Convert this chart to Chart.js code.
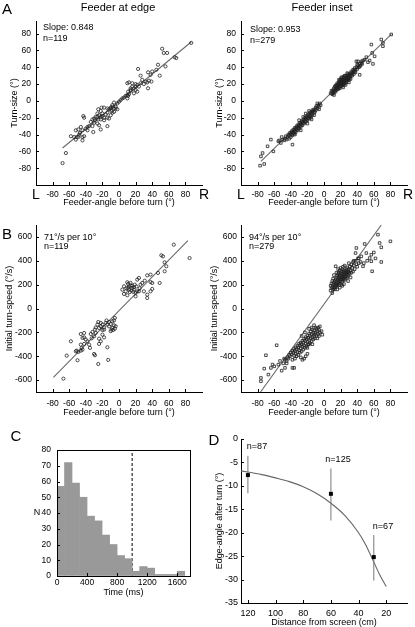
<!DOCTYPE html>
<html>
<head>
<meta charset="utf-8">
<script src="https://cdn.jsdelivr.net/npm/chart.js@4.4.1/dist/chart.umd.min.js"></script>
<style>
  html, body { margin: 0; padding: 0; background: #fff; }
  #fig { position: relative; width: 415px; height: 627px; overflow: hidden; font-family: 'Liberation Sans', Arial, sans-serif; color: #000; }
  #fig canvas { position: absolute; }
  .t { position: absolute; white-space: nowrap; line-height: 1; font-size: 9px; }
  .c { transform: translate(-50%, -50%); }
  .l { transform: translate(0, -50%); }
  .big { font-size: 15px; }
</style>
</head>
<body>
<div id="fig">
  <canvas id="cA1" width="205" height="210" style="left:0;top:0"></canvas>
  <canvas id="cA2" width="210" height="210" style="left:205px;top:0"></canvas>
  <canvas id="cB1" width="205" height="210" style="left:0;top:210px"></canvas>
  <canvas id="cB2" width="210" height="210" style="left:205px;top:210px"></canvas>
  <canvas id="cC" width="205" height="207" style="left:0;top:420px"></canvas>
  <canvas id="cD" width="210" height="207" style="left:205px;top:420px"></canvas>

  <div class="t c big" style="left:7px;top:8px">A</div>
  <div class="t c" style="left:118px;top:7px;font-size:11px">Feeder at edge</div>
  <div class="t c" style="left:322px;top:7px;font-size:11px">Feeder inset</div>
  <div class="t c big" style="left:36px;top:194px;font-size:14px">L</div>
  <div class="t c big" style="left:204px;top:194px;font-size:14px">R</div>
  <div class="t c big" style="left:241px;top:194px;font-size:14px">L</div>
  <div class="t c big" style="left:408px;top:194px;font-size:14px">R</div>
  <div class="t l" style="left:43px;top:27px">Slope: 0.848</div>
  <div class="t l" style="left:43px;top:38px">n=119</div>
  <div class="t l" style="left:250px;top:29px">Slope: 0.953</div>
  <div class="t l" style="left:250px;top:40px">n=279</div>

  <div class="t c big" style="left:7px;top:233px">B</div>
  <div class="t l" style="left:44px;top:237px">71°/s per 10°</div>
  <div class="t l" style="left:44px;top:246px">n=119</div>
  <div class="t l" style="left:249px;top:237px">94°/s per 10°</div>
  <div class="t l" style="left:249px;top:246px">n=279</div>

  <div class="t c big" style="left:16px;top:435px">C</div>
  <div class="t c" style="left:37px;top:512px">N</div>

  <div class="t c big" style="left:214px;top:439px">D</div>
  <div class="t c" style="left:257px;top:446px">n=87</div>
  <div class="t c" style="left:338px;top:459px">n=125</div>
  <div class="t c" style="left:383px;top:526px">n=67</div>
</div>

<script>
// ---- data ----
const angleTicks = [-80, -60, -40, -20, 0, 20, 40, 60, 80];
const turnTicks = [-80, -60, -40, -20, 0, 20, 40, 60, 80];
const speedTicks = [-600, -400, -200, 0, 200, 400, 600];

// A: feeder angle (deg) vs turn size (deg)
const edgeTurn = [[87,69],[52,62],[54,57],[58,57],[67,52],[69,51],[23,38],[47,43],[56,41],[35,34],[40,35],[38,31],[26,30],[49,30],
  [12,22],[16,21],[20,20],[22,19],[26,21],[32,23],[34,22],[36,24],[39,23],[30,20],[35,15],[16,17],[18,15],[20,13],[14,13],[22,11],
  [18,9],[12,8],[8,6],[6,4],[11,6],[10,3],[14,12],[11,11],
  [-6,-2],[-8,-5],[-4,-7],[-10,-8],[-6,-9],[-12,-10],[-2,-10],[-9,-12],[-14,-14],[-16,-16],[-8,-14],[-6,-13],[-10,-17],[-21,-8],
  [-18,-8],[-25,-10],[-22,-12],[-26,-15],[-24,-17],[-28,-19],[-22,-19],[-20,-18],[-18,-20],[-14,-20],[-12,-21],[-25,-22],[-22,-22],
  [-29,-23],[-32,-22],[-34,-25],[-30,-26],[-26,-27],[-24,-29],[-36,-30],[-38,-31],[-32,-30],[-14,-30],[-22,-34],[-31,-37],[-43,-18],[-42,-20],
  [-46,-31],[-44,-35],[-49,-34],[-52,-35],[-47,-38],[-51,-43],[-54,-43],[-49,-43],[-44,-43],[-42,-42],[-58,-42],[-52,-46],[-44,-47],
  [-64,-62],[-68,-74],
  [-10,-9],[-4,-9],[-20,-15],[20,17],[24,17],[14,15],[10,7],[-14,-9],[-8,-7],[-18,-23],[-26,-19],[-30,-21],[-38,-35],[-48,-40],
  [-40,-33],[28,25],[45,37],[10,21],[2,1],[4,3],[0,-1],[-2,-3]];
const edgeTurnFitX = [-68, 87];
const edgeTurnFitY = [-56, 70];

const insetTurn = [[81,79],[69,73],[71,69],[71,65],[57,67],[58,57],[61,53],[59,44],[51,52],[49,49],[45,45],[41,47],[39,47],[43,41],
  [53,46],[55,48],[43,31],
  [-76,-66],[-77,-77],[-72,-75],[-74,-62],[-68,-54],[-61,-60],[-64,-46],[-55,-48],[-54,-47],[-38,-52],[-51,-43],
  [8,9],[9,12],[10,8],[10,11],[11,13],[12,10],[12,15],[13,12],[13,17],[14,14],[14,11],[15,16],[15,13],[15,19],[16,15],[16,18],
  [16,21],[17,14],[17,17],[17,20],[18,16],[18,19],[18,22],[18,25],[19,18],[19,21],[19,15],[20,20],[20,23],[20,17],[20,26],[21,19],
  [21,22],[21,25],[22,18],[22,21],[22,24],[22,28],[23,20],[23,23],[23,26],[24,22],[24,25],[24,29],[24,19],[25,24],[25,27],[25,21],
  [26,23],[26,26],[26,30],[27,25],[27,28],[27,22],[28,27],[28,30],[28,24],[29,26],[29,29],[29,32],[30,28],[30,31],[30,25],[31,30],
  [31,27],[32,29],[32,33],[33,31],[33,35],[34,30],[34,33],[35,34],[35,37],[36,32],[37,35],[37,39],[38,37],[39,40],[40,38],[41,42],
  [42,40],[43,44],[44,42],[45,47],[46,44],[47,48],[36,36],[38,34],[40,43],[19,24],[21,28],[25,30],[28,33],[14,18],[11,9],[12,7],
  [30,22],[32,26],[26,19],[23,16],
  [-4,-5],[-5,-3],[-6,-7],[-7,-5],[-8,-9],[-9,-6],[-10,-11],[-10,-8],[-11,-13],[-12,-10],[-12,-14],[-13,-12],[-14,-16],[-14,-11],
  [-15,-13],[-15,-18],[-16,-15],[-16,-20],[-17,-14],[-17,-18],[-18,-17],[-18,-21],[-19,-16],[-19,-20],[-20,-19],[-20,-23],[-21,-18],
  [-21,-22],[-22,-21],[-22,-25],[-23,-20],[-23,-24],[-24,-23],[-24,-27],[-25,-22],[-25,-26],[-26,-25],[-26,-29],[-27,-24],[-27,-28],
  [-28,-27],[-28,-31],[-29,-26],[-29,-30],[-30,-29],[-30,-33],[-31,-28],[-31,-32],[-32,-31],[-32,-35],[-33,-30],[-33,-34],[-34,-33],
  [-34,-37],[-35,-32],[-35,-36],[-36,-35],[-36,-39],[-37,-34],[-37,-38],[-38,-37],[-38,-41],[-39,-36],[-39,-40],[-40,-39],[-40,-43],
  [-41,-38],[-42,-41],[-42,-45],[-43,-40],[-44,-43],[-45,-46],[-46,-42],[-47,-45],[-48,-47],[-50,-46],[-52,-50],[-22,-15],[-25,-19],
  [-18,-12],[-30,-23],[-35,-40],[-28,-35],[-20,-27],[-15,-22],[-12,-17],[-8,-3],[-6,-10]];
const insetTurnFitX = [-76, 81];
const insetTurnFitY = [-72, 79];

// B: feeder angle (deg) vs initial turn speed (deg/s)
const edgeSpeed = [[66,535],[51,446],[53,437],[85,423],[55,387],[57,354],[55,312],[47,298],[38,284],[34,278],[24,256],[22,242],
  [31,233],[38,222],[49,214],[40,214],[26,200],[14,214],[10,220],[11,206],[6,186],[14,194],[16,172],[18,158],[12,158],[15,150],
  [8,144],[6,122],[10,111],[20,130],[22,144],[24,144],[20,102],[30,144],[34,116],[34,88],[38,144],[40,164],[28,214],[4,158],[11,172],
  [18,178],[12,186],[16,190],[19,200],[9,170],[13,138],[25,170],[17,140],[21,185],
  [-5,-79],[-8,-107],[-12,-113],[-10,-130],[-6,-141],[-4,-149],[-14,-135],[-8,-163],[-5,-169],[-9,-177],[-22,-121],[-25,-113],
  [-26,-135],[-22,-149],[-20,-135],[-18,-158],[-24,-163],[-18,-177],[-29,-177],[-32,-197],[-28,-205],[-20,-219],[-18,-242],[-24,-253],
  [-22,-275],[-30,-233],[-34,-214],[-42,-205],[-44,-247],[-42,-242],[-46,-214],[-38,-275],[-42,-297],[-46,-303],[-36,-303],[-58,-275],
  [-14,-325],[-24,-297],[-30,-381],[-29,-392],[-52,-359],[-51,-353],[-46,-353],[-44,-345],[-49,-364],[-63,-395],[-50,-434],[-25,-465],
  [-13,-431],[-67,-588],[-16,-120],[-12,-150],[-7,-180],[-28,-160],[-33,-250],[-40,-260],[-15,-100],[-6,-100],[-10,-190],[-35,-330],
  [-45,-330],[-20,-180]];
const edgeSpeedFitX = [-79, 83];
const edgeSpeedFitY = [-577, 569];

const insetSpeed = [[65,619],[80,563],[67,549],[69,513],[49,541],[51,465],[57,451],[45,437],[55,423],[57,396],[69,390],[58,312],
  [47,354],[39,507],[38,465],[14,354],[27,312],[60,470],[62,420],[52,400],[42,420],[44,390],[36,400],[48,380],
  [8,150],[8,190],[9,170],[9,210],[10,130],[10,180],[10,230],[11,160],[11,200],[11,250],[12,175],[12,215],[12,280],[13,190],[13,230],
  [13,160],[14,205],[14,245],[14,180],[15,220],[15,260],[15,190],[15,300],[16,235],[16,275],[16,200],[17,250],[17,290],[17,215],
  [17,330],[18,230],[18,265],[18,300],[18,195],[19,245],[19,280],[19,320],[19,210],[20,260],[20,295],[20,230],[20,340],[21,245],
  [21,275],[21,310],[21,200],[22,260],[22,290],[22,330],[22,225],[23,270],[23,305],[23,240],[23,350],[24,255],[24,285],[24,320],
  [25,270],[25,300],[25,240],[25,360],[26,285],[26,315],[26,250],[27,300],[27,330],[27,270],[28,290],[28,345],[28,260],[29,310],
  [29,280],[30,330],[30,300],[30,380],[31,290],[31,350],[32,320],[32,260],[33,370],[33,300],[34,340],[35,310],[35,390],[36,360],
  [37,330],[38,400],[39,370],[40,350],[41,420],[42,380],[16,160],[19,175],[24,205],[29,230],[22,190],
  [-76,-610],[-76,-582],[-72,-504],[-67,-554],[-64,-498],[-60,-485],[-70,-392],[-57,-308],[-55,-471],[-51,-521],[-47,-498],[-38,-498],
  [-36,-498],[-53,-440],[-48,-420],[-45,-460],[-62,-470],
  [-5,-150],[-5,-200],[-6,-180],[-7,-160],[-7,-215],[-8,-190],[-9,-170],[-9,-230],[-10,-200],[-10,-160],[-11,-215],[-11,-250],
  [-12,-185],[-12,-230],[-13,-205],[-13,-260],[-14,-175],[-14,-240],[-15,-215],[-15,-275],[-16,-195],[-16,-250],[-17,-230],[-17,-290],
  [-18,-210],[-18,-265],[-19,-245],[-19,-300],[-20,-225],[-20,-280],[-20,-380],[-21,-255],[-21,-320],[-22,-240],[-22,-295],[-22,-400],
  [-23,-270],[-23,-330],[-24,-255],[-24,-310],[-24,-420],[-25,-285],[-25,-345],[-26,-270],[-26,-320],[-26,-430],[-27,-300],[-27,-360],
  [-28,-285],[-28,-335],[-28,-410],[-29,-310],[-29,-370],[-30,-295],[-30,-350],[-31,-325],[-31,-390],[-32,-310],[-32,-365],[-33,-340],
  [-33,-400],[-34,-325],[-34,-380],[-35,-355],[-35,-420],[-36,-340],[-36,-395],[-37,-370],[-38,-355],[-38,-430],[-39,-385],[-40,-370],
  [-41,-400],[-42,-390],[-43,-420],[-44,-410],[-45,-440],[-47,-430],[-49,-460],[-12,-140],[-15,-160],[-18,-170],[-8,-250],[-6,-230],
  [-3,-190],[-2,-220],[-27,-230],[-23,-200],[-18,-300],[-14,-300],[-20,-330]];
const insetSpeedFitX = [-76.5, 69];
const insetSpeedFitY = [-700, 700];

// C: histogram of time (ms), 100 ms bins
const timeBinStart = [0, 100, 200, 300, 400, 500, 600, 700, 800, 900, 1000, 1100, 1200, 1300, 1400, 1500, 1600];
const timeCounts = [57, 72, 59, 50, 38, 35, 26, 20, 13, 11, 3, 6, 5, 1, 1, 1, 3];
const timeBinWidth = 100;
const timeCutoff = 1000;
const timeTicks = [0, 400, 800, 1200, 1600];
const countTicks = [0, 10, 20, 30, 40, 50, 60, 70, 80];

// D: distance from screen (cm) vs edge angle after turn (deg)
const distance = [120, 60, 29];
const edgeAngle = [-7.7, -11.7, -25.2];
const edgeAngleLow = [-11.6, -17.4, -30.2];
const edgeAngleHigh = [-3.6, -6.3, -20.5];
const curveDist = [125, 110, 100, 90, 80, 70, 60, 50, 40, 35, 30, 25, 20];
const curveAngle = [-6.8, -7.6, -8.3, -9.1, -10.2, -11.7, -13.7, -16.3, -20, -22.5, -25.6, -28.8, -31.5];
const distTicks = [120, 100, 80, 60, 40, 20];
const edgeAngleTicks = [0, -5, -10, -15, -20, -25, -30, -35];

// ---- helpers ----
Chart.defaults.font.family = "'Liberation Sans', Arial, sans-serif";
Chart.defaults.color = '#000';
Chart.defaults.animation = false;

function pairs(xs, ys) { return xs.map(function (x, i) { return { x: x, y: ys[i] }; }); }
function fromPts(list) { return list.map(function (p) { return { x: p[0], y: p[1] }; }); }
function fixedTicks(list) {
  return function (scale) { scale.ticks = list.map(function (v) { return { value: v }; }); };
}

function xAxis(min, max, list, title, height, tickPad, titlePad, size) {
  return {
    type: 'linear', min: min, max: max, bounds: 'data', offset: false,
    afterBuildTicks: fixedTicks(list),
    afterFit: function (s) { s.height = height; },
    grid: { drawOnChartArea: false, drawTicks: false },
    border: { display: true, color: '#000', width: 1 },
    ticks: { padding: tickPad, font: { size: size }, maxRotation: 0, autoSkip: false,
      callback: function (v) { return String(v); } },
    title: { display: true, text: title, font: { size: 9 }, padding: { top: 0, bottom: titlePad } }
  };
}

function yAxis(min, max, list, title, width, tickPad, titlePad, size) {
  return {
    type: 'linear', min: min, max: max, bounds: 'data',
    afterBuildTicks: fixedTicks(list),
    afterFit: function (s) { s.width = width; },
    grid: { drawOnChartArea: false, drawTicks: false },
    border: { display: true, color: '#000', width: 1 },
    ticks: { padding: tickPad, font: { size: size }, autoSkip: false,
      callback: function (v) { return String(v); } },
    title: { display: !!title, text: title, font: { size: 9 }, padding: { top: titlePad, bottom: 0 } }
  };
}

// short tick marks pointing into the plot, and an optional frame
const innerTicks = {
  id: 'innerTicks',
  afterDraw: function (chart) {
    const ctx = chart.ctx, a = chart.chartArea;
    const xs = chart.scales.x, ys = chart.scales.y;
    ctx.save();
    ctx.strokeStyle = '#000';
    ctx.lineWidth = 1;
    xs.ticks.forEach(function (t) {
      const p = Math.round(xs.getPixelForValue(t.value)) + 0.5;
      ctx.beginPath(); ctx.moveTo(p, a.bottom); ctx.lineTo(p, a.bottom - 3); ctx.stroke();
    });
    ys.ticks.forEach(function (t) {
      const p = Math.round(ys.getPixelForValue(t.value)) + 0.5;
      ctx.beginPath(); ctx.moveTo(a.left, p); ctx.lineTo(a.left + 3, p); ctx.stroke();
    });
    const o = chart.options.plugins.innerTicks;
    if (o && o.box) {
      ctx.strokeRect(Math.round(a.left) + 0.5, Math.round(a.top) + 0.5,
        Math.round(a.right - a.left), Math.round(a.bottom - a.top));
    }
    ctx.restore();
  }
};

function scatterPanel(id, pts, fitX, fitY, style, r, pad, x, y) {
  new Chart(document.getElementById(id), {
    type: 'scatter',
    data: {
      datasets: [{
        data: fromPts(pts), pointStyle: style, pointRadius: r, pointHoverRadius: r,
        borderWidth: 0.8, borderColor: '#222', backgroundColor: 'rgba(255,255,255,0)'
      }, {
        data: pairs(fitX, fitY), showLine: true, pointRadius: 0,
        borderColor: '#6a6a6a', borderWidth: 1.1
      }]
    },
    options: {
      responsive: false,
      layout: { padding: pad },
      plugins: { legend: { display: false }, tooltip: { enabled: false } },
      scales: { x: x, y: y }
    },
    plugins: [innerTicks]
  });
}

// ---- A ----
scatterPanel('cA1', edgeTurn, edgeTurnFitX, edgeTurnFitY, 'circle', 1.6,
  { left: 0, top: 21, right: 3, bottom: 0 },
  xAxis(-100, 100, angleTicks, 'Feeder-angle before turn (°)', 25, 5, 2, 8.5),
  yAxis(-100, 95, turnTicks, 'Turn-size (°)', 36, 5, 9.6, 8.5));

scatterPanel('cA2', insetTurn, insetTurnFitX, insetTurnFitY, 'rect', 1.8,
  { left: 0, top: 21, right: 8, bottom: 0 },
  xAxis(-100, 100, angleTicks, 'Feeder-angle before turn (°)', 25, 5, 2, 8.5),
  yAxis(-100, 95, turnTicks, 'Turn-size (°)', 36, 5, 9.6, 8.5));

// ---- B ----
scatterPanel('cB1', edgeSpeed, edgeSpeedFitX, edgeSpeedFitY, 'circle', 1.6,
  { left: 0, top: 15, right: 3, bottom: 0 },
  xAxis(-100, 100, angleTicks, 'Feeder-angle before turn (°)', 28, 7, 2, 8.5),
  yAxis(-700, 700, speedTicks, 'Initial turn-speed (°/s)', 36, 4, 4.6, 8.5));

scatterPanel('cB2', insetSpeed, insetSpeedFitX, insetSpeedFitY, 'rect', 1.8,
  { left: 0, top: 15, right: 8, bottom: 0 },
  xAxis(-100, 100, angleTicks, 'Feeder-angle before turn (°)', 28, 7, 2, 8.5),
  yAxis(-700, 700, speedTicks, 'Initial turn-speed (°/s)', 36, 4, 4.6, 8.5));

// ---- C ----
new Chart(document.getElementById('cC'), {
  type: 'bar',
  data: {
    datasets: [{
      data: pairs(timeBinStart.map(function (s) { return s + timeBinWidth / 2; }), timeCounts),
      backgroundColor: '#999999', borderWidth: 0,
      barPercentage: 1, categoryPercentage: 1
    }, {
      type: 'line',
      data: pairs([timeCutoff, timeCutoff], [0, 80]),
      borderColor: '#000', borderWidth: 1, borderDash: [3, 2], pointRadius: 0, fill: false
    }]
  },
  options: {
    responsive: false,
    layout: { padding: { left: 0, top: 30, right: 15, bottom: 0 } },
    plugins: { legend: { display: false }, tooltip: { enabled: false }, innerTicks: { box: true } },
    scales: {
      x: xAxis(0, 1770, timeTicks, 'Time (ms)', 51, 2, 28.9, 8.5),
      y: yAxis(0, 80, countTicks, '', 57, 6, 0, 8.5)
    }
  },
  plugins: [innerTicks]
});

// ---- D ----
const dX = xAxis(5, 125, distTicks, 'Distance from screen (cm)', 24, 5.5, 0, 9);
dX.reverse = true;
dX.title.font = { size: 9, lineHeight: 1 };
new Chart(document.getElementById('cD'), {
  type: 'scatter',
  data: {
    datasets: [{
      data: pairs(distance, edgeAngle), pointStyle: 'rect', pointRadius: 2.8, pointHoverRadius: 2.8,
      backgroundColor: '#000', borderColor: '#000', borderWidth: 0
    }, {
      data: distance.flatMap(function (d, i) {
        return [{ x: d, y: edgeAngleLow[i] }, { x: d, y: edgeAngleHigh[i] }, { x: d, y: null }];
      }),
      showLine: true, spanGaps: false, pointRadius: 0, borderColor: '#777', borderWidth: 1
    }, {
      data: pairs(curveDist, curveAngle), showLine: true, pointRadius: 0,
      borderColor: '#666', borderWidth: 1.1, cubicInterpolationMode: 'monotone'
    }]
  },
  options: {
    responsive: false,
    layout: { padding: { left: 0, top: 19, right: 8, bottom: 0 } },
    plugins: { legend: { display: false }, tooltip: { enabled: false } },
    scales: {
      x: dX,
      y: yAxis(-35, 0, edgeAngleTicks, 'Edge-angle after turn (°)', 36, 3, 9.6, 9)
    }
  },
  plugins: [innerTicks]
});
</script>
</body>
</html>
